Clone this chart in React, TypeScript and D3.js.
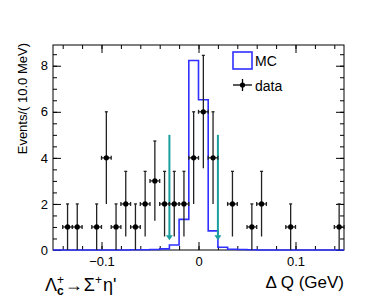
import * as d3 from 'd3'
import React from 'react'

// data points (bin centres, events)
const dataX = [-0.135, -0.125, -0.105, -0.095, -0.085, -0.075, -0.065, -0.055, -0.045, -0.035, -0.025, -0.015, -0.005, 0.005, 0.015, 0.035, 0.055, 0.065, 0.095, 0.145]
const dataY = [1, 1, 1, 4, 1, 2, 1, 2, 3, 2, 2, 2, 4, 6, 4, 2, 1, 2, 1, 1]

// MC histogram, 30 bins of 10 MeV from -0.15 to 0.15
const mcValues = [0, 0, 0, 0, 0, 0, 0, 0, 0.01, 0.01, 0.02, 0.05, 0.22, 1.33, 8.23, 6.52, 0.83, 0.12, 0.03, 0.02, 0.01, 0, 0, 0, 0, 0, 0, 0, 0, 0]

// signal region cuts
const cuts = [-0.03, 0.02]

const xTickLabels = [-0.1, 0, 0.1]
const yTickLabels = [0, 2, 4, 6, 8]

const FONT = '"Liberation Sans", Arial, Helvetica, sans-serif'

export default function App() {
    const ref = React.useRef<SVGSVGElement>(null)

    React.useEffect(() => {
        document.body.style.margin = '0'
        draw()
    })

    function draw() {
        const svg = d3.select(ref.current)
        svg.selectAll('*').remove()

        const left = 53, right = 344, top = 45, bottom = 250
        const x = d3.scaleLinear().domain([-0.15, 0.15]).range([left, right])
        const y = d3.scaleLinear().domain([0, 8.9]).range([bottom, top])

        // frame
        svg.append('rect')
            .attr('x', left).attr('y', top)
            .attr('width', right - left).attr('height', bottom - top)
            .attr('fill', 'none').attr('stroke', 'black').attr('stroke-width', 1)

        // axes: minor + major ticks, pointing inwards, on all four sides
        const xMinor = d3.range(-0.14, 0.1501, 0.02)
        const yMinor = d3.range(0, 8.9, 0.5)

        const axis = (gen: any, tr: string, labels: boolean) => {
            const g = svg.append('g').attr('transform', tr).call(gen)
            g.select('.domain').remove()
            g.selectAll('line').attr('stroke', 'black')
            if (!labels) g.selectAll('text').remove()
            else g.selectAll('text').attr('font-family', FONT).attr('font-size', 13).attr('fill', 'black')
            return g
        }

        axis(d3.axisBottom(x).tickValues(xMinor).tickSize(-4).tickFormat(() => ''), `translate(0,${bottom})`, false)
        axis(d3.axisBottom(x).tickValues(xTickLabels).tickSize(-8).tickPadding(7).tickFormat(d3.format('')), `translate(0,${bottom})`, true)
        axis(d3.axisTop(x).tickValues(xMinor).tickSize(-4), `translate(0,${top})`, false)
        axis(d3.axisTop(x).tickValues(xTickLabels).tickSize(-8), `translate(0,${top})`, false)

        axis(d3.axisLeft(y).tickValues(yMinor).tickSize(-4), `translate(${left},0)`, false)
        axis(d3.axisLeft(y).tickValues(yTickLabels).tickSize(-8).tickPadding(5).tickFormat(d3.format('d')), `translate(${left},0)`, true)
        axis(d3.axisRight(y).tickValues(yMinor).tickSize(-4), `translate(${right},0)`, false)
        axis(d3.axisRight(y).tickValues(yTickLabels).tickSize(-8), `translate(${right},0)`, false)

        // MC step histogram
        const edges = mcValues.map((_, i) => -0.15 + i * 0.01)
        const steps: [number, number][] = []
        mcValues.forEach((v, i) => {
            steps.push([edges[i], v])
            steps.push([edges[i] + 0.01, v])
        })
        const line = d3.line<[number, number]>().x(d => x(d[0])).y(d => y(d[1]))
        svg.append('path')
            .attr('d', line(steps))
            .attr('fill', 'none')
            .attr('stroke', '#3030ff')
            .attr('stroke-width', 1.6)

        // cut arrows
        cuts.forEach(c => {
            const tip = y(0.42)
            svg.append('line')
                .attr('x1', x(c)).attr('x2', x(c))
                .attr('y1', y(5)).attr('y2', tip - 3)
                .attr('stroke', '#1b9e9e').attr('stroke-width', 2)
            svg.append('path')
                .attr('d', `M${x(c) - 3.5},${tip - 5}L${x(c) + 3.5},${tip - 5}L${x(c)},${tip}Z`)
                .attr('fill', '#1b9e9e')
        })

        // data points with sqrt(N) errors
        const pts = svg.append('g').attr('stroke', '#222').attr('stroke-width', 1.3)
        dataX.forEach((dx, i) => {
            const v = dataY[i]
            const e = Math.sqrt(v)
            const cx = x(dx), cy = y(v)
            const x0 = x(dx - 0.005), x1 = x(dx + 0.005)
            const y0 = y(Math.max(0, v - e)), y1 = y(v + e)
            pts.append('line').attr('x1', cx).attr('x2', cx).attr('y1', y0).attr('y2', y1)
            pts.append('line').attr('x1', x0).attr('x2', x1).attr('y1', cy).attr('y2', cy)
            pts.append('line').attr('x1', x0).attr('x2', x0).attr('y1', cy - 2).attr('y2', cy + 2)
            pts.append('line').attr('x1', x1).attr('x2', x1).attr('y1', cy - 2).attr('y2', cy + 2)
            pts.append('line').attr('x1', cx - 1.5).attr('x2', cx + 1.5).attr('y1', y1).attr('y2', y1)
            svg.append('circle').attr('cx', cx).attr('cy', cy).attr('r', 2.6).attr('fill', 'black')
        })

        // legend
        svg.append('rect')
            .attr('x', 233).attr('y', 52).attr('width', 19).attr('height', 17)
            .attr('fill', 'none').attr('stroke', '#3030ff').attr('stroke-width', 1.6)
        svg.append('text').attr('x', 255).attr('y', 65.5).text('MC')
            .attr('font-family', FONT).attr('font-size', 14)
        svg.append('line').attr('x1', 233).attr('x2', 252).attr('y1', 85).attr('y2', 85)
            .attr('stroke', 'black').attr('stroke-width', 1.3)
        svg.append('line').attr('x1', 242.5).attr('x2', 242.5).attr('y1', 79).attr('y2', 91)
            .attr('stroke', 'black').attr('stroke-width', 1.3)
        svg.append('circle').attr('cx', 242.5).attr('cy', 85).attr('r', 2.6).attr('fill', 'black')
        svg.append('text').attr('x', 255).attr('y', 90.5).text('data')
            .attr('font-family', FONT).attr('font-size', 14)

        // axis titles
        svg.append('text')
            .attr('transform', `translate(27,${top - 2}) rotate(-90)`)
            .attr('text-anchor', 'end')
            .attr('font-family', FONT).attr('font-size', 13)
            .text('Events/( 10.0 MeV)')
        svg.append('text')
            .attr('x', right).attr('y', 288)
            .attr('text-anchor', 'end')
            .attr('font-family', FONT).attr('font-size', 17)
            .text('Δ Q (GeV)')

        // decay label
        const lab = svg.append('text')
            .attr('x', 45).attr('y', 290.5)
            .attr('font-family', FONT).attr('font-size', 18)
        lab.append('tspan').text('Λ')
        lab.append('tspan').attr('font-size', 12).attr('dy', -7).text('+')
        lab.append('tspan').attr('font-size', 12).attr('font-weight', 'bold').attr('dx', -7).attr('dy', 11).text('c')
        lab.append('tspan').attr('dy', -4).attr('dx', 1).text('→')
        lab.append('tspan').attr('dx', 1).text('Σ')
        lab.append('tspan').attr('font-size', 12).attr('dy', -7).text('+')
        lab.append('tspan').attr('dy', 7).attr('dx', 1).text('η\'')
    }

    return (
        <svg ref={ref} width={382} height={303} style={{ display: 'block', background: 'white' }}></svg>
    )
}
